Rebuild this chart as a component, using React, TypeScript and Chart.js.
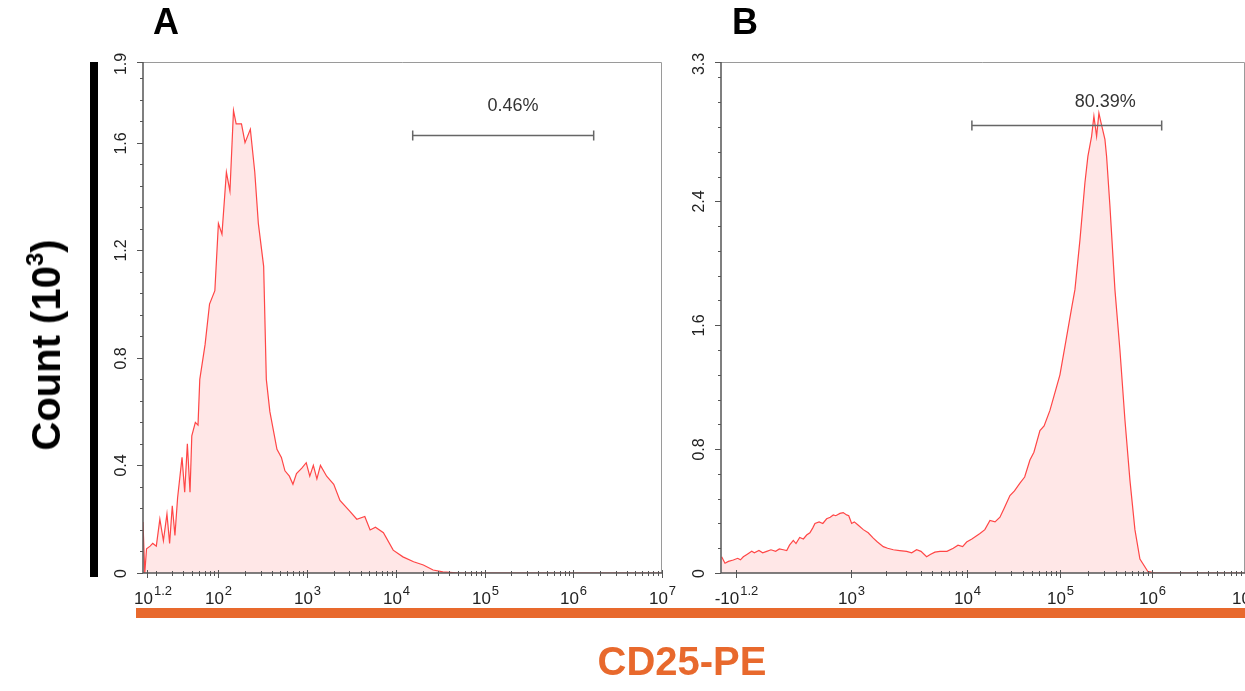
import React, { useEffect, useRef } from "react";
import { Chart, registerables } from "chart.js";
Chart.register(...registerables);

const W = 1245;
const H = 691;
const FONT = '"Liberation Sans", Arial, Helvetica, sans-serif';

// ---------- Panel A (x in displayed decades, y in count x10^3) ----------
const aX = [1.15, 1.17, 1.19, 1.23, 1.26, 1.3, 1.34, 1.38, 1.42, 1.45, 1.48, 1.51, 1.54, 1.59, 1.62, 1.65, 1.68, 1.7, 1.74, 1.77, 1.79, 1.85, 1.9, 1.96, 2.0, 2.04, 2.09, 2.13, 2.17, 2.2, 2.26, 2.3, 2.36, 2.41, 2.45, 2.51, 2.54, 2.58, 2.66, 2.71, 2.75, 2.8, 2.84, 2.88, 2.94, 2.99, 3.03, 3.07, 3.11, 3.15, 3.22, 3.3, 3.37, 3.48, 3.56, 3.65, 3.71, 3.77, 3.86, 3.97, 4.08, 4.2, 4.31, 4.42, 4.53, 4.72, 7.0];
const aY = [0.19, 0.0, 0.09, 0.1, 0.11, 0.1, 0.2, 0.12, 0.22, 0.11, 0.25, 0.14, 0.28, 0.43, 0.3, 0.48, 0.3, 0.51, 0.56, 0.55, 0.72, 0.85, 1.0, 1.05, 1.3, 1.26, 1.49, 1.42, 1.72, 1.67, 1.67, 1.6, 1.65, 1.49, 1.3, 1.14, 0.72, 0.6, 0.46, 0.43, 0.38, 0.36, 0.33, 0.37, 0.39, 0.41, 0.36, 0.4, 0.35, 0.4, 0.36, 0.33, 0.27, 0.23, 0.2, 0.21, 0.16, 0.17, 0.15, 0.085, 0.06, 0.042, 0.03, 0.011, 0.004, 0.0, 0.0];

// ---------- Panel B ----------
const bX = [1.347, 1.383, 1.42, 1.473, 1.52, 1.55, 1.581, 1.62, 1.672, 1.7, 1.75, 1.79, 1.834, 1.88, 1.93, 1.97, 2.013, 2.05, 2.08, 2.121, 2.15, 2.19, 2.23, 2.265, 2.3, 2.33, 2.355, 2.4, 2.44, 2.481, 2.52, 2.553, 2.58, 2.625, 2.66, 2.697, 2.72, 2.751, 2.78, 2.82, 2.877, 2.93, 2.985, 3.03, 3.093, 3.14, 3.201, 3.27, 3.345, 3.4, 3.453, 3.5, 3.561, 3.6, 3.65, 3.705, 3.78, 3.849, 3.9, 3.95, 3.993, 4.05, 4.137, 4.19, 4.245, 4.3, 4.353, 4.4, 4.461, 4.51, 4.569, 4.62, 4.677, 4.72, 4.785, 4.83, 4.893, 5.001, 5.066, 5.13, 5.163, 5.217, 5.271, 5.303, 5.343, 5.368, 5.397, 5.422, 5.444, 5.487, 5.505, 5.541, 5.595, 5.649, 5.703, 5.757, 5.811, 5.865, 5.951, 6.027, 7.0];
const bY = [0.105, 0.063, 0.075, 0.084, 0.095, 0.085, 0.105, 0.12, 0.14, 0.13, 0.145, 0.13, 0.14, 0.15, 0.14, 0.155, 0.15, 0.145, 0.18, 0.21, 0.19, 0.23, 0.22, 0.245, 0.26, 0.29, 0.32, 0.33, 0.32, 0.35, 0.36, 0.375, 0.37, 0.385, 0.39, 0.375, 0.37, 0.32, 0.33, 0.31, 0.28, 0.26, 0.225, 0.2, 0.17, 0.16, 0.15, 0.145, 0.14, 0.13, 0.15, 0.14, 0.105, 0.12, 0.135, 0.14, 0.14, 0.16, 0.18, 0.17, 0.2, 0.22, 0.255, 0.28, 0.34, 0.33, 0.36, 0.42, 0.5, 0.53, 0.58, 0.62, 0.73, 0.78, 0.92, 0.95, 1.05, 1.28, 1.5, 1.72, 1.83, 2.15, 2.52, 2.69, 2.82, 2.95, 2.82, 2.97, 2.91, 2.8, 2.69, 2.37, 1.83, 1.44, 0.99, 0.6, 0.28, 0.09, 0.01, 0.0, 0.0];

// ---------- Axis ticks ----------
const aXTickPos = [1.2, 2, 3, 4, 5, 6, 7];
const aXTickBase = ["10", "10", "10", "10", "10", "10", "10"];
const aXTickExp = ["1.2", "2", "3", "4", "5", "6", "7"];
const bXTickPos = [1.5, 2.74, 4, 5, 6, 7];
const bXTickBase = ["-10", "10", "10", "10", "10", "10"];
const bXTickExp = ["1.2", "3", "4", "5", "6", "7"];
const aYTicks = [0, 0.4, 0.8, 1.2, 1.6, 1.9];
const bYTicks = [0, 0.8, 1.6, 2.4, 3.3];

// ---------- Gates ----------
const gateLabels = ["0.46%", "80.39%"];
const gateX1 = [4.19, 4.05];
const gateX2 = [6.23, 6.1];
const gateY = [1.629, 2.894];
const gateLabelX = [5.32, 5.49];
const gateLabelY = [1.718, 3.01];

type PanelCfg = {
  xs: number[];
  ys: number[];
  xMin: number;
  xMax: number;
  yMax: number;
  pad: { left: number; right: number; top: number; bottom: number };
  xTickPos: number[];
  xTickBase: string[];
  xTickExp: string[];
  xMinor: number[];
  yTicks: number[];
  yMinorStep: number;
  gate: number;
};

function minorA(): number[] {
  const out: number[] = [];
  for (let n = 1; n < 7; n++) for (let k = 2; k <= 9; k++) {
    const u = n + Math.log10(k);
    if (u > 1.2 && u < 7) out.push(u);
  }
  return out;
}
function minorB(): number[] {
  const out: number[] = [];
  for (let k = 2; k <= 9; k++) out.push(2.74 + Math.log10(k) * 1.26);
  for (let n = 4; n < 7; n++) for (let k = 2; k <= 9; k++) out.push(n + Math.log10(k));
  return out;
}

function axesPlugin(cfg: PanelCfg) {
  return {
    id: "flowAxes",
    afterDraw(chart: any) {
      const ctx = chart.ctx as CanvasRenderingContext2D;
      const xs = chart.scales.x;
      const ys = chart.scales.y;
      const a = chart.chartArea;
      ctx.save();
      // frame top/right
      ctx.strokeStyle = "#9a9a9a";
      ctx.lineWidth = 1;
      ctx.beginPath();
      ctx.moveTo(a.left, a.top + 0.5);
      ctx.lineTo(a.right - 0.5, a.top + 0.5);
      ctx.lineTo(a.right - 0.5, a.bottom);
      ctx.stroke();
      // axes
      ctx.strokeStyle = "#555";
      ctx.lineWidth = 1.5;
      ctx.beginPath();
      ctx.moveTo(a.left, a.top);
      ctx.lineTo(a.left, a.bottom);
      ctx.lineTo(a.right, a.bottom);
      ctx.stroke();
      // y ticks
      ctx.lineWidth = 1;
      ctx.strokeStyle = "#555";
      for (let v = 0; v <= cfg.yMax + 1e-6; v += cfg.yMinorStep) {
        const py = Math.round(ys.getPixelForValue(v)) + 0.5;
        ctx.beginPath();
        ctx.moveTo(a.left - 3, py);
        ctx.lineTo(a.left, py);
        ctx.stroke();
      }
      ctx.fillStyle = "#222";
      ctx.font = `16px ${FONT}`;
      ctx.textAlign = "center";
      ctx.textBaseline = "middle";
      cfg.yTicks.forEach((v) => {
        const py = Math.round(ys.getPixelForValue(v)) + 0.5;
        ctx.beginPath();
        ctx.moveTo(a.left - 6, py);
        ctx.lineTo(a.left, py);
        ctx.stroke();
        ctx.save();
        ctx.translate(a.left - 21, Math.max(py, a.top + 2));
        ctx.rotate(-Math.PI / 2);
        ctx.fillText(String(v), 0, 0);
        ctx.restore();
      });
      // x ticks
      cfg.xMinor.forEach((u) => {
        const px = Math.round(xs.getPixelForValue(u)) + 0.5;
        ctx.beginPath();
        ctx.moveTo(px, a.bottom - 2);
        ctx.lineTo(px, a.bottom + 3);
        ctx.stroke();
      });
      ctx.textAlign = "left";
      ctx.textBaseline = "alphabetic";
      cfg.xTickPos.forEach((u, i) => {
        const px = Math.round(xs.getPixelForValue(u)) + 0.5;
        ctx.beginPath();
        ctx.moveTo(px, a.bottom - 3);
        ctx.lineTo(px, a.bottom + 5);
        ctx.stroke();
        ctx.font = `17px ${FONT}`;
        const wb = ctx.measureText(cfg.xTickBase[i]).width;
        ctx.font = `13px ${FONT}`;
        const we = ctx.measureText(cfg.xTickExp[i]).width;
        const w = wb + we + 1;
        let x0 = px - w / 2;
        if (x0 < a.left - 9) x0 = a.left - 9;
        ctx.font = `17px ${FONT}`;
        ctx.fillText(cfg.xTickBase[i], x0, a.bottom + 31);
        ctx.font = `13px ${FONT}`;
        ctx.fillText(cfg.xTickExp[i], x0 + wb + 1, a.bottom + 22);
      });
      // gate
      const g = cfg.gate;
      const gx1 = xs.getPixelForValue(gateX1[g]);
      const gx2 = xs.getPixelForValue(gateX2[g]);
      const gy = Math.round(ys.getPixelForValue(gateY[g])) + 0.5;
      ctx.strokeStyle = "#666";
      ctx.lineWidth = 1.5;
      ctx.beginPath();
      ctx.moveTo(gx1, gy);
      ctx.lineTo(gx2, gy);
      ctx.moveTo(gx1, gy - 5);
      ctx.lineTo(gx1, gy + 5);
      ctx.moveTo(gx2, gy - 5);
      ctx.lineTo(gx2, gy + 5);
      ctx.stroke();
      ctx.fillStyle = "#333";
      ctx.font = `18px ${FONT}`;
      ctx.textAlign = "center";
      ctx.fillText(gateLabels[g], xs.getPixelForValue(gateLabelX[g]), ys.getPixelForValue(gateLabelY[g]));
      ctx.restore();
    },
  };
}

function Panel({ cfg }: { cfg: PanelCfg }) {
  const ref = useRef<HTMLCanvasElement>(null);
  useEffect(() => {
    if (!ref.current) return;
    const chart = new Chart(ref.current, {
      type: "line",
      data: {
        datasets: [
          {
            data: cfg.xs.map((x, i) => ({ x, y: cfg.ys[i] })),
            borderColor: "#ff4646",
            borderWidth: 1.2,
            backgroundColor: "rgba(255, 70, 70, 0.13)",
            fill: "origin",
            pointRadius: 0,
            tension: 0,
          },
        ],
      },
      options: {
        animation: false,
        responsive: false,
        events: [],
        layout: { padding: cfg.pad },
        plugins: { legend: { display: false }, tooltip: { enabled: false } },
        scales: {
          x: { type: "linear", min: cfg.xMin, max: cfg.xMax, display: false },
          y: { type: "linear", min: 0, max: cfg.yMax, display: false },
        },
      },
      plugins: [axesPlugin(cfg)],
    });
    return () => chart.destroy();
  }, [cfg]);
  return (
    <canvas
      ref={ref}
      width={W}
      height={H}
      style={{ position: "absolute", left: 0, top: 0, width: W, height: H }}
    />
  );
}

const cfgA: PanelCfg = {
  xs: aX,
  ys: aY,
  xMin: 1.15,
  xMax: 7,
  yMax: 1.9,
  pad: { left: 143, right: W - 662, top: 62, bottom: H - 573 },
  xTickPos: aXTickPos,
  xTickBase: aXTickBase,
  xTickExp: aXTickExp,
  xMinor: minorA(),
  yTicks: aYTicks,
  yMinorStep: 0.08,
  gate: 0,
};
const cfgB: PanelCfg = {
  xs: bX,
  ys: bY,
  xMin: 1.34,
  xMax: 7,
  yMax: 3.3,
  pad: { left: 721, right: 0, top: 62, bottom: H - 573 },
  xTickPos: bXTickPos,
  xTickBase: bXTickBase,
  xTickExp: bXTickExp,
  xMinor: minorB(),
  yTicks: bYTicks,
  yMinorStep: 0.16,
  gate: 1,
};

export default function App() {
  return (
    <div
      style={{
        position: "fixed",
        left: 0,
        top: 0,
        width: W,
        height: H,
        overflow: "hidden",
        background: "#fff",
        fontFamily: FONT,
      }}
    >
      <Panel cfg={cfgA} />
      <Panel cfg={cfgB} />
      <div style={{ position: "absolute", left: 153, top: 1, fontSize: 36, fontWeight: 700, color: "#000" }}>A</div>
      <div style={{ position: "absolute", left: 732, top: 1, fontSize: 36, fontWeight: 700, color: "#000" }}>B</div>
      <div style={{ position: "absolute", left: 90, top: 62, width: 8, height: 515, background: "#000" }} />
      <div style={{ position: "absolute", left: 136, top: 608, width: W - 136, height: 10, background: "#e8692d" }} />
      <div
        style={{
          position: "absolute",
          left: 46,
          top: 345,
          transform: "translate(-50%, -50%) rotate(-90deg)",
          whiteSpace: "nowrap",
          fontSize: 40,
          fontWeight: 700,
          color: "#000",
          lineHeight: 1,
        }}
      >
        Count (10<sup style={{ fontSize: "0.6em", verticalAlign: "0.7em", lineHeight: 0 }}>3</sup>)
      </div>
      <div
        style={{
          position: "absolute",
          left: 682,
          top: 661,
          transform: "translate(-50%, -50%)",
          whiteSpace: "nowrap",
          fontSize: 40,
          fontWeight: 700,
          color: "#e8692d",
          lineHeight: 1,
        }}
      >
        CD25-PE
      </div>
    </div>
  );
}
